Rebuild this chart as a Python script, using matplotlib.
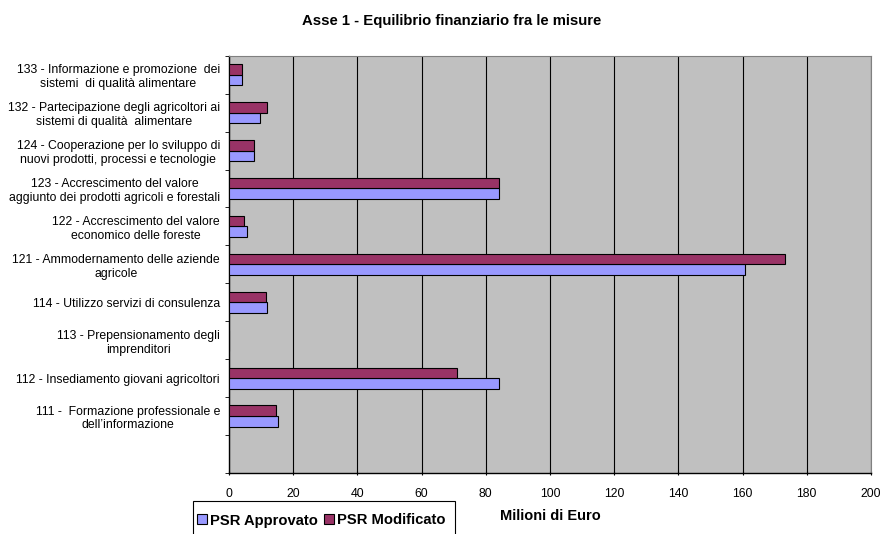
import matplotlib.pyplot as plt
from matplotlib.patches import Rectangle
import numpy as np

plt.rcParams['font.family'] = ['Liberation Sans', 'DejaVu Sans']

# categories bottom to top (slot 0 is left empty, as in the original)
categories = [
    "111 -  Formazione professionale e\ndell\u2019informazione",
    "112 - Insediamento giovani agricoltori",
    "113 - Prepensionamento degli\nimprenditori",
    "114 - Utilizzo servizi di consulenza",
    "121 - Ammodernamento delle aziende\nagricole",
    "122 - Accrescimento del valore\neconomico delle foreste",
    "123 - Accrescimento del valore\naggiunto dei prodotti agricoli e forestali",
    "124 - Cooperazione per lo sviluppo di\nnuovi prodotti, processi e tecnologie",
    "132 - Partecipazione degli agricoltori ai\nsistemi di qualit\u00e0  alimentare",
    "133 - Informazione e promozione  dei\nsistemi  di qualit\u00e0 alimentare",
]
approvato = [15.4, 84.0, 0, 11.7, 160.8, 5.6, 84.0, 7.7, 9.6, 3.9]
modificato = [14.7, 70.9, 0, 11.4, 173.3, 4.6, 84.0, 7.7, 11.9, 3.9]
x_ticks = [0, 20, 40, 60, 80, 100, 120, 140, 160, 180, 200]

col_app = '#9999FF'
col_mod = '#993366'

fig = plt.figure(figsize=(8.8, 5.34), dpi=100)
ax = fig.add_axes([229 / 880, 1 - 473 / 534, 642 / 880, (473 - 55.7) / 534])
ax.set_facecolor('#C0C0C0')

pos = np.arange(len(categories)) + 1
h = 0.28
b_app = ax.barh(pos - h / 2, approvato, height=h, color=col_app, edgecolor='black',
                linewidth=0.8, label='PSR Approvato', zorder=3)
b_mod = ax.barh(pos + h / 2, modificato, height=h, color=col_mod, edgecolor='black',
                linewidth=0.8, label='PSR Modificato', zorder=3)

ax.set_xlim(0, 200)
ax.set_ylim(-0.5, len(categories) + 0.5)
ax.set_xticks(x_ticks)
ax.set_xticklabels([str(t) for t in x_ticks], fontsize=8.8)
ax.grid(axis='x', color='black', linewidth=0.8, zorder=1)

ax.set_yticks(pos)
ax.set_yticklabels(categories, fontsize=8.8)
for lab in ax.get_yticklabels():
    lab.set_multialignment('center')
    lab.set_linespacing(1.2)
ax.set_yticks(np.arange(len(categories) + 2) - 0.5, minor=True)
ax.tick_params(axis='y', which='major', length=0, pad=6.5)
ax.tick_params(axis='y', which='minor', length=3, direction='out', color='black')
ax.tick_params(axis='x', length=3, direction='inout', pad=9, color='black')

for s in ['top', 'right']:
    ax.spines[s].set_color('#808080')
for s in ['left', 'bottom']:
    ax.spines[s].set_color('black')
    ax.spines[s].set_linewidth(1.0)

ax.set_xlabel('Milioni di Euro', fontsize=10.5, fontweight='bold', labelpad=6.5)

fig.text(452 / 880, 1 - 21.5 / 534, 'Asse 1 - Equilibrio finanziario fra le misure',
         ha='center', va='center', fontsize=10.7, fontweight='bold')

# legend box runs off the bottom edge, as in the original
fig.patches.append(Rectangle((193 / 880, -0.05), (455 - 193) / 880, 0.05 + 1 - 501 / 534,
                             transform=fig.transFigure, facecolor='white',
                             edgecolor='black', linewidth=0.8, zorder=-1))
fig.legend(handles=[b_app, b_mod], loc='center left',
           bbox_to_anchor=(197 / 880, 1 - 520.5 / 534), ncol=2, frameon=False,
           prop={'weight': 'bold', 'size': 10.6}, handlelength=0.65,
           handleheight=0.65, handletextpad=0.2, columnspacing=0.45,
           borderpad=0.0, borderaxespad=0)

fig.savefig('out.png', dpi=100)
